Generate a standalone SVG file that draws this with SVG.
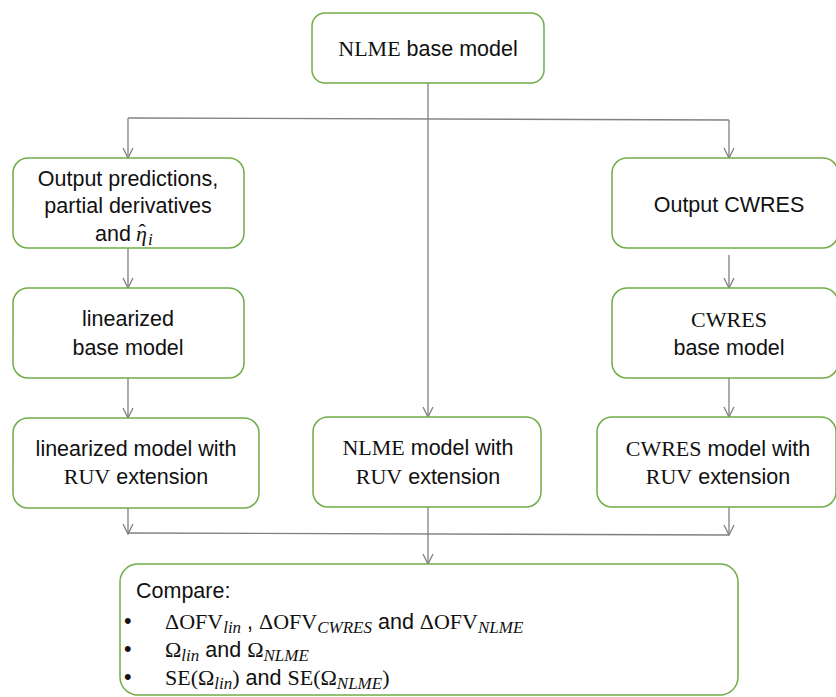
<svg xmlns="http://www.w3.org/2000/svg" width="836" height="697" viewBox="0 0 836 697">
<style>
.box{fill:#fff;stroke:#70AD47;stroke-width:1.5}
.t{font-family:"Liberation Sans",Arial,sans-serif;font-size:21.5px;fill:#111;text-anchor:middle}
.tl{font-family:"Liberation Sans",Arial,sans-serif;font-size:21.5px;fill:#111}
.s{font-family:"Liberation Serif","Times New Roman",serif;font-size:22px}
.i{font-family:"Liberation Serif","Times New Roman",serif;font-style:italic;font-size:17px}
.c{fill:none;stroke:#808080;stroke-width:1.3}
</style>
<defs>
<marker id="a" markerWidth="14" markerHeight="14" refX="12" refY="7" orient="auto" markerUnits="userSpaceOnUse" viewBox="0 0 14 14">
<path d="M2,2 L12,7 L2,12" fill="none" stroke="#808080" stroke-width="1.3"/>
</marker>
</defs>
<g id="connectors">
<path class="c" d="M428,83 V417" marker-end="url(#a)"/>
<path class="c" d="M128,118 L729,120"/>
<path class="c" d="M128,118 V158" marker-end="url(#a)"/>
<path class="c" d="M729,120 V158" marker-end="url(#a)"/>
<path class="c" d="M128,248 V288" marker-end="url(#a)"/>
<path class="c" d="M128,378 V418" marker-end="url(#a)"/>
<path class="c" d="M729,255 V288" marker-end="url(#a)"/>
<path class="c" d="M729,378 V417" marker-end="url(#a)"/>
<path class="c" d="M128,508 V534" marker-end="url(#a)"/>
<path class="c" d="M729,507 V535" marker-end="url(#a)"/>
<path class="c" d="M128,533 L729,535"/>
<path class="c" d="M428,507 V564" marker-end="url(#a)"/>
</g>
<g id="n1">
<rect class="box" x="312" y="13" width="232" height="70" rx="13"/>
<text class="t" x="428" y="56"><tspan class="s">NLME</tspan> base model</text>
</g>
<g id="n2">
<rect class="box" x="13" y="158" width="231" height="90" rx="15"/>
<text class="t" x="128" y="186">Output predictions,</text>
<text class="t" x="128" y="213">partial derivatives</text>
<text class="tl" x="95" y="241">and <tspan class="s" x="136" font-style="italic">η</tspan><tspan class="s" x="138.5" y="239" font-size="15">ˆ</tspan><tspan class="i" x="148" y="245">i</tspan></text>
</g>
<g id="n3">
<rect class="box" x="13" y="288" width="231" height="90" rx="15"/>
<text class="t" x="128" y="326">linearized</text>
<text class="t" x="128" y="355">base model</text>
</g>
<g id="n4">
<rect class="box" x="13" y="418" width="246" height="90" rx="15"/>
<text class="t" x="136" y="456">linearized model with</text>
<text class="t" x="136" y="484"><tspan class="s">RUV</tspan> extension</text>
</g>
<g id="n5">
<rect class="box" x="313" y="417" width="228" height="90" rx="15"/>
<text class="t" x="428" y="455"><tspan class="s">NLME</tspan> model with</text>
<text class="t" x="428" y="484"><tspan class="s">RUV</tspan> extension</text>
</g>
<g id="n6">
<rect class="box" x="612" y="158" width="226" height="90" rx="15"/>
<text class="t" x="729" y="212">Output CWRES</text>
</g>
<g id="n7">
<rect class="box" x="612" y="288" width="226" height="90" rx="15"/>
<text class="t" x="729" y="327"><tspan class="s">CWRES</tspan></text>
<text class="t" x="729" y="355">base model</text>
</g>
<g id="n8">
<rect class="box" x="597" y="417" width="239" height="90" rx="15"/>
<text class="t" x="718" y="456"><tspan class="s">CWRES</tspan> model with</text>
<text class="t" x="718" y="484"><tspan class="s">RUV</tspan> extension</text>
</g>
<g id="n9">
<rect class="box" x="120" y="564" width="618" height="131" rx="18"/>
<text class="tl" x="136" y="598">Compare:</text>
<text class="tl" x="124" y="628" font-size="17">•</text>
<text class="tl" x="124" y="656" font-size="17">•</text>
<text class="tl" x="124" y="684" font-size="17">•</text>
<text class="tl" x="165" y="629"><tspan class="s">ΔOFV</tspan><tspan class="i" dy="4">lin</tspan><tspan dy="-4"> , </tspan><tspan class="s">ΔOFV</tspan><tspan class="i" dy="4">CWRES</tspan><tspan dy="-4"> and  </tspan><tspan class="s">ΔOFV</tspan><tspan class="i" dy="4">NLME</tspan></text>
<text class="tl" x="165" y="657"><tspan class="s">Ω</tspan><tspan class="i" dy="4">lin</tspan><tspan dy="-4">  and </tspan><tspan class="s">Ω</tspan><tspan class="i" dy="4">NLME</tspan></text>
<text class="tl" x="165" y="685"><tspan class="s">SE(Ω</tspan><tspan class="i" dy="4">lin</tspan><tspan class="s" dy="-4">)</tspan><tspan> and </tspan><tspan class="s">SE(Ω</tspan><tspan class="i" dy="4">NLME</tspan><tspan class="s" dy="-4">)</tspan></text>
</g>
</svg>
